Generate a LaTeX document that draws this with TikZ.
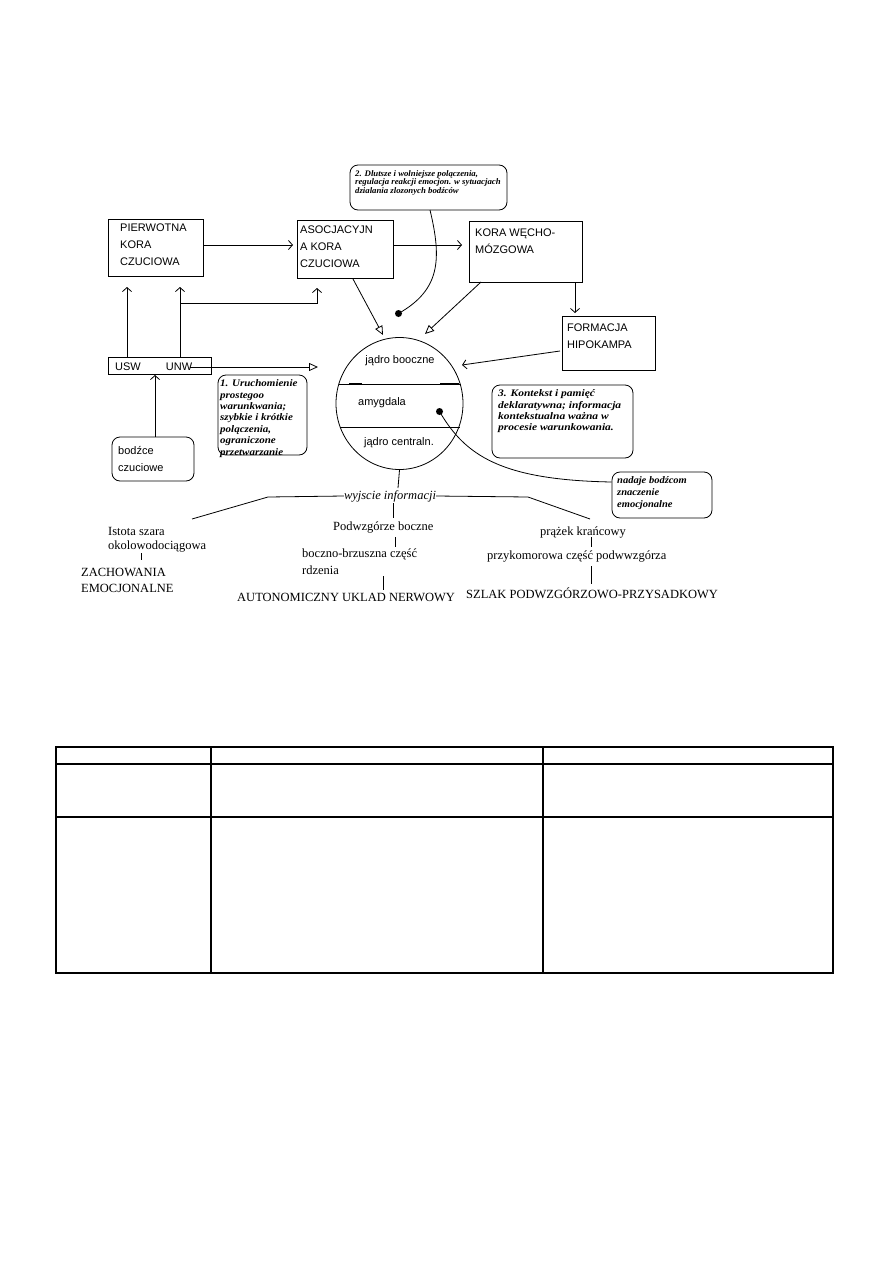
\documentclass[tikz,border=0pt]{standalone}
\usepackage{graphicx}
\usepackage{fontspec}
\setmainfont{Liberation Serif}
\newfontfamily\sansf{Liberation Sans}
\newfontfamily\callf{Liberation Serif}
\usetikzlibrary{arrows.meta,shapes.geometric}
\newcommand\calltext[2]{\scalebox{#1}[1]{\begin{tabular}{@{}l@{}}#2\end{tabular}}}
\tikzset{
  box/.style={draw, line width=0.8, inner sep=0},
  btxt/.style={font=\sansf\fontsize{11}{17}\selectfont, align=left, inner sep=0, anchor=north west},
  ctxt/.style={font=\callf\bfseries\itshape\fontsize{10}{11.4}\selectfont, inner sep=0, anchor=north west},
  call/.style={draw, rounded corners=8, line width=0.8, inner sep=0},
  lbl/.style={font=\fontsize{12.5}{15}\selectfont, inner sep=0, anchor=west},
  ln/.style={line width=0.8},
  barb/.style={ln, -{Straight Barb[length=4,width=9]}},
  tri/.style={ln, -{Triangle[open,length=9,width=8]}},
  dot/.style={fill, circle, inner sep=0, minimum size=7},
  tab/.style={line width=2.5}
}
\begin{document}
\begin{tikzpicture}[x=1pt,y=-1pt]
\useasboundingbox[fill=white] (0,0) rectangle (893,1263);

% boxes
\node[box, minimum width=95, minimum height=57] (pier) at (155.5,247.5) {};
\node[btxt] (piert) at (120,224) {PIERWOTNA\\KORA\\CZUCIOWA};
\node[box, minimum width=96, minimum height=58] (asoc) at (345,249) {};
\node[btxt] (asoct) at (300,226) {ASOCJACYJN\\A KORA\\CZUCIOWA};
\node[box, minimum width=113, minimum height=61] (kora) at (525.5,251.5) {};
\node[btxt] (korat) at (475,229) {KORA WĘCHO-\\MÓZGOWA};
\node[box, minimum width=93, minimum height=54] (form) at (608.5,343) {};
\node[btxt] (formt) at (567,324) {FORMACJA\\HIPOKAMPA};
\node[box, minimum width=103, minimum height=17] (usw) at (159.5,365.5) {};
\node[font=\sansf\fontsize{11}{13}\selectfont, inner sep=0] (uswt) at (128,367) {USW};
\node[font=\sansf\fontsize{11}{13}\selectfont, inner sep=0] (unwt) at (179,367) {UNW};

% callouts
\node[call, minimum width=82, minimum height=44] (bodz) at (153,459) {};
\node[btxt] (bodzt) at (118,446) {bodźce\\czuciowe};
\node[call, minimum width=157, minimum height=45] (c2) at (428.5,187.5) {};
\node[ctxt, font=\callf\bfseries\itshape\fontsize{8.5}{8.6}\selectfont] (c2t) at (355,170) {\calltext{1.03}{2. Dlutsze i wolniejsze polączenia,\\regulacja reakcji emocjon. w sytuacjach\\dzialania zlozonych bodźców}};
\node[call, minimum width=89, minimum height=80] (c1) at (262.5,415) {};
\node[ctxt] (c1t) at (220,378.5) {\calltext{1.1}{1. Uruchomienie\\prostegoo\\warunkwania;\\szybkie i krótkie\\polączenia,\\ograniczone\\przetwarzanie}};
\node[call, minimum width=141, minimum height=73] (c3) at (562.5,421.5) {};
\node[ctxt] (c3t) at (498,388.5) {\calltext{1.15}{3. Kontekst i pamięć\\deklaratywna; informacja\\kontekstualna ważna w\\procesie warunkowania.}};
\node[call, minimum width=100, minimum height=46] (cn) at (662,495) {};
\node[ctxt, font=\callf\bfseries\itshape\fontsize{10}{11.7}\selectfont] (cnt) at (617,475.5) {\calltext{1.05}{nadaje bodźcom\\znaczenie\\emocjonalne}};

% amygdala
\node[draw, ln, ellipse, minimum width=127, minimum height=132, inner sep=0] (amy) at (399.5,403.5) {};
\draw[ln] (338.5,384) -- (460.5,384);
\draw[line width=2.5] (349,384) -- (362,384);
\draw[line width=2.5] (440,384) -- (459,384);
\draw[ln] (339.5,427) -- (459.5,427);
\node[font=\sansf\fontsize{11}{13}\selectfont, inner sep=0] (lat) at (400,361) {jądro booczne};
\node[font=\sansf\fontsize{11}{13}\selectfont, inner sep=0] (amyt) at (382,403) {amygdala};
\node[font=\sansf\fontsize{11}{13}\selectfont, inner sep=0] (cen) at (399,443) {jądro centraln.};

% dots
\node[dot] (d2) at (398.5,313.5) {};
\node[dot] (dn) at (439.5,411.5) {};

% arrows top
\draw[barb] (pier.east |- 0,245) -- (293,245);
\draw[barb] (asoc.east |- 0,245) -- (462,245);
\draw[barb] (575,282) -- (575,313);
\draw[barb] (127,357) -- (127,287);
\draw[barb] (180,357) -- (180,287);
\coordinate (br1) at (180,303);
\coordinate (br2) at (317,303);
\draw[barb] (br1) -- (br2) -- (317,288);
\draw[barb] (bodz.north -| 155,0) -- (155,375);
\coordinate (unwend) at (190,367);
\draw[tri] (unwend) -- (318,367);
\draw[tri] (353,279) -- (383,335);
\draw[tri] (481,282) -- (425,334);
\draw[barb] (560,351) -- (462,365);

% callout curves
\draw[ln] (430,210) .. controls (442,260) and (440,290) .. (d2.center);
\draw[ln] (dn.center) .. controls (465,455) and (500,480) .. (cn.west |- 0,482);

% outputs
\node[font=\fontsize{12.5}{15}\selectfont\itshape, inner sep=0] (wyj) at (390,496) {wyjscie informacji};
\draw[ln] (amy.south) -- (398,488);
\draw[ln] (wyj.west) -- (268,497) -- (192,519);
\draw[ln] (wyj.east) -- (528,497) -- (590,519);

\node[lbl] (ist) at (108,531) {Istota szara};
\node[lbl] (oko) at (108,547) {okolowodociągowa};
\node[lbl] (zach) at (81,572) {ZACHOWANIA};
\node[lbl] (emoc) at (81,588) {EMOCJONALNE};
\node[lbl] (podw) at (333,527) {Podwzgórze boczne};
\node[lbl] (bocz) at (302,554) {boczno-brzuszna część};
\node[lbl] (rdz) at (302,570) {rdzenia};
\node[lbl] (auto) at (237,597) {AUTONOMICZNY UKLAD NERWOWY};
\node[lbl] (praz) at (540,532) {prążek krańcowy};
\node[lbl] (przy) at (487,556) {przykomorowa część podwwzgórza};
\node[lbl] (szl) at (466,593) {SZLAK PODWZGÓRZOWO-PRZYSADKOWY};

\draw[ln] (393,503) -- (393,518);
\draw[ln] (395,537) -- (395,547);
\draw[ln] (383,576) -- (383,590);
\draw[ln] (141,553) -- (141,560);
\draw[ln] (591,537) -- (591,547);
\draw[ln] (591,566) -- (591,584);

% table
\draw[tab] (56,747) rectangle (833,973);
\draw[tab] (56,764) -- (833,764);
\draw[tab] (56,817) -- (833,817);
\draw[line width=2] (211,747) -- (211,973);
\draw[line width=2] (543,747) -- (543,973);
\end{tikzpicture}
\end{document}
